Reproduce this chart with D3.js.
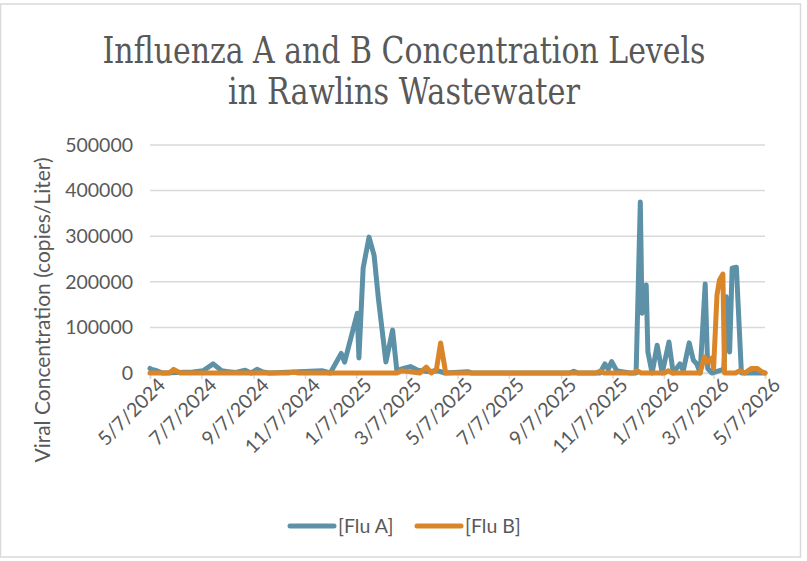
<!DOCTYPE html>
<html>
<head>
<meta charset="utf-8">
<script src="https://cdn.jsdelivr.net/npm/d3@7"></script>
<style>
  body { margin: 0; background: #ffffff; }
  svg { display: block; }
  .tick-label { font-family: Lato, "Open Sans", sans-serif; font-size: 19.5px; fill: #595959; }
  .chart-title { font-family: "DejaVu Serif", serif; fill: #595959; }
</style>
</head>
<body>
<script>
// Chart data
const fluADates = [
  "2024-05-07", "2024-05-09", "2024-05-15", "2024-05-22", "2024-06-27", "2024-07-09",
  "2024-07-21", "2024-07-31", "2024-08-08", "2024-08-17", "2024-08-28", "2024-09-04",
  "2024-09-11", "2024-09-18", "2024-09-26", "2024-11-27", "2024-12-07", "2024-12-20",
  "2024-12-24", "2025-01-08", "2025-01-10", "2025-01-15", "2025-01-22", "2025-01-28",
  "2025-02-02", "2025-02-11", "2025-02-19", "2025-02-24", "2025-03-04", "2025-03-12",
  "2025-03-21", "2025-04-02", "2025-04-13", "2025-04-22", "2025-05-19", "2025-05-24",
  "2025-09-17", "2025-09-22", "2025-09-27", "2025-10-23", "2025-10-29", "2025-11-02",
  "2025-11-06", "2025-11-12", "2025-11-18", "2025-11-28", "2025-12-05", "2025-12-10",
  "2025-12-12", "2025-12-17", "2025-12-19", "2025-12-24", "2025-12-30", "2026-01-05",
  "2026-01-13", "2026-01-18", "2026-01-26", "2026-01-30", "2026-02-06", "2026-02-11",
  "2026-02-15", "2026-02-19", "2026-02-25", "2026-02-28", "2026-03-05", "2026-03-14",
  "2026-03-19", "2026-03-20", "2026-03-22", "2026-03-26", "2026-03-29", "2026-04-03",
  "2026-04-09", "2026-05-07"
];
const fluAValues = [
  10000, 8000, 5000, 0, 2000, 5000,
  20000, 5000, 3000, 1000, 6000, 0,
  8000, 2000, 0, 5000, 0, 43000,
  24000, 131000, 33000, 230000, 298000, 258000,
  165000, 24000, 94000, 5000, 10000, 14000,
  6000, 3000, 5000, 0, 3000, 0,
  0, 4000, 0, 0, 20000, 8000,
  25000, 5000, 3000, 0, 0, 375000,
  131000, 193000, 46000, 0, 61000, 0,
  68000, 0, 20000, 5000, 66000, 28000,
  20000, 0, 195000, 10000, 0, 5000,
  8000, 44000, 167000, 46000, 230000, 232000,
  0, 0
];

const fluBDates = [
  "2024-05-07", "2024-05-30", "2024-06-04", "2024-06-12", "2024-10-18", "2024-10-24",
  "2024-10-30", "2025-02-24", "2025-03-02", "2025-03-10", "2025-03-23", "2025-03-31",
  "2025-04-06", "2025-04-12", "2025-04-17", "2025-04-23", "2025-10-18", "2025-10-23",
  "2025-10-28", "2025-12-02", "2025-12-06", "2025-12-11", "2026-01-08", "2026-01-12",
  "2026-01-17", "2026-02-19", "2026-02-24", "2026-02-28", "2026-03-05", "2026-03-07",
  "2026-03-11", "2026-03-14", "2026-03-18", "2026-03-20", "2026-04-02", "2026-04-07",
  "2026-04-13", "2026-04-21", "2026-04-28", "2026-05-03", "2026-05-07"
];
const fluBValues = [
  0, 0, 8000, 0, 0, 2000,
  0, 0, 5000, 3000, 0, 13000,
  0, 8000, 66000, 0, 0, 4000,
  0, 0, 5000, 0, 0, 5000,
  0, 0, 35000, 24000, 33000, 10000,
  171000, 204000, 217000, 0, 0, 5000,
  0, 10000, 10000, 3000, 0
];

const xTickLabels = [
  "2024-05-07", "2024-07-07", "2024-09-07", "2024-11-07", "2025-01-07", "2025-03-07",
  "2025-05-07", "2025-07-07", "2025-09-07", "2025-11-07", "2026-01-07", "2026-03-07",
  "2026-05-07"
];
const yTickValues = [0, 100000, 200000, 300000, 400000, 500000];

const seriesNames = ["[Flu A]", "[Flu B]"];
const seriesColors = ["#5d91a7", "#da8628"];

// Set chart dimensions
const width = 807;
const height = 561;
const margin = { top: 145, right: 42, bottom: 188, left: 150 };

const parseDate = d3.timeParse("%Y-%m-%d");
const formatDate = d3.timeFormat("%-m/%-d/%Y");

const fluA = fluADates.map((d, i) => ({ date: parseDate(d), value: fluAValues[i] }));
const fluB = fluBDates.map((d, i) => ({ date: parseDate(d), value: fluBValues[i] }));

// Create the SVG container
const svg = d3.select("body")
  .append("svg")
  .attr("width", width)
  .attr("height", height);

// Outer chart border
svg.append("rect")
  .attr("x", 0.5)
  .attr("y", 4)
  .attr("width", 800)
  .attr("height", 553)
  .attr("fill", "none")
  .attr("stroke", "#d9d9d9")
  .attr("stroke-width", 1.5);

// Scales
const xScale = d3.scaleTime()
  .domain([parseDate(xTickLabels[0]), parseDate(xTickLabels[xTickLabels.length - 1])])
  .range([margin.left, width - margin.right]);

const yScale = d3.scaleLinear()
  .domain([0, 500000])
  .range([height - margin.bottom, margin.top]);

// Gridlines
svg.append("g")
  .selectAll("line")
  .data(yTickValues)
  .join("line")
  .attr("x1", margin.left)
  .attr("x2", width - margin.right)
  .attr("y1", d => yScale(d))
  .attr("y2", d => yScale(d))
  .attr("stroke", "#d9d9d9")
  .attr("stroke-width", 1.5);

// Y axis
const leftAxis = d3.axisLeft(yScale)
  .tickValues(yTickValues)
  .tickSize(0)
  .tickPadding(17)
  .tickFormat(d3.format("d"));

svg.append("g")
  .attr("transform", `translate(${margin.left}, 0)`)
  .call(leftAxis)
  .call(g => g.select(".domain").remove())
  .attr("font-size", null)
  .attr("font-family", null)
  .selectAll("text")
  .attr("class", "tick-label")
  .attr("fill", null);

// X axis
const bottomAxis = d3.axisBottom(xScale)
  .tickValues(xTickLabels.map(parseDate))
  .tickSize(6)
  .tickPadding(4)
  .tickFormat(formatDate);

const xAxis = svg.append("g")
  .attr("transform", `translate(0, ${height - margin.bottom})`)
  .call(bottomAxis);

xAxis.attr("font-size", null).attr("font-family", null);
xAxis.select(".domain").attr("stroke", "#d9d9d9").attr("stroke-width", 1.5);
xAxis.selectAll(".tick line").attr("stroke", "#d9d9d9").attr("stroke-width", 1.5);
xAxis.selectAll("text")
  .attr("class", "tick-label")
  .attr("fill", null)
  .attr("text-anchor", "end")
  .attr("dx", "0.1em")
  .attr("dy", "0.55em")
  .attr("transform", "rotate(-45)");

// Lines
const line = d3.line()
  .x(d => xScale(d.date))
  .y(d => yScale(d.value));

[fluA, fluB].forEach((series, i) => {
  svg.append("path")
    .datum(series)
    .attr("d", line)
    .attr("fill", "none")
    .attr("stroke", seriesColors[i])
    .attr("stroke-width", 5)
    .attr("stroke-linejoin", "round")
    .attr("stroke-linecap", "round");
});

// Y axis title
svg.append("text")
  .attr("class", "tick-label")
  .attr("transform", "rotate(-90)")
  .attr("x", -310)
  .attr("y", 50)
  .attr("text-anchor", "middle")
  .style("font-size", "21px")
  .text("Viral Concentration (copies/Liter)");

// Chart title, squeezed horizontally to the narrow face of the original
const titleLines = ["Influenza A and B Concentration Levels", "in Rawlins Wastewater"];
const titleWidths = [603, 352];
titleLines.forEach((t, i) => {
  const txt = svg.append("text")
    .attr("class", "chart-title")
    .attr("text-anchor", "middle")
    .attr("font-size", 37)
    .text(t);
  const natural = txt.node().getComputedTextLength();
  txt.attr("transform", `translate(404, ${63 + i * 41}) scale(${titleWidths[i] / natural}, 1)`);
});

// Legend
const legendX = [290, 417];
seriesNames.forEach((name, i) => {
  svg.append("line")
    .attr("x1", legendX[i])
    .attr("x2", legendX[i] + 44)
    .attr("y1", 526)
    .attr("y2", 526)
    .attr("stroke", seriesColors[i])
    .attr("stroke-width", 5)
    .attr("stroke-linecap", "round");

  svg.append("text")
    .attr("class", "tick-label")
    .attr("x", legendX[i] + 48)
    .attr("y", 533)
    .text(name);
});
</script>
</body>
</html>
